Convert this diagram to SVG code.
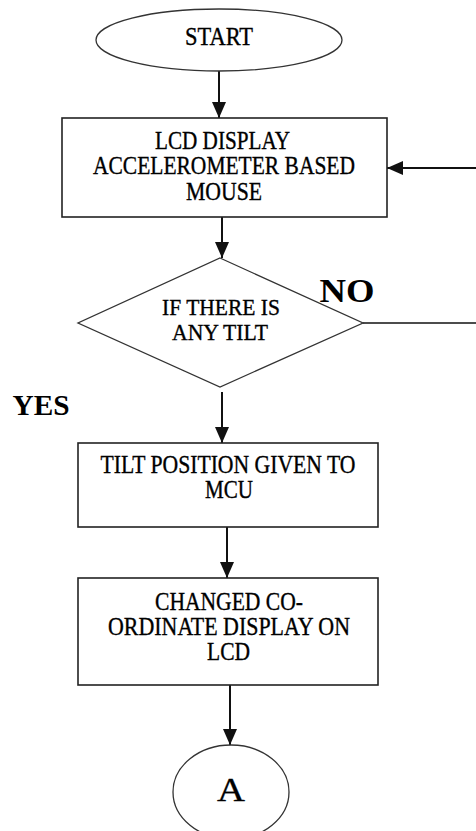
<svg xmlns="http://www.w3.org/2000/svg" width="476" height="831" viewBox="0 0 476 831">
<style>
.shape{fill:#fff;stroke:#222;stroke-width:1.6}
.soft{fill:#fff;stroke:#333;stroke-width:1.3}
.t{font-family:"Liberation Serif","Times New Roman","DejaVu Serif",serif;font-weight:normal;font-size:25px;fill:#000;stroke:#000;stroke-width:0.35;text-anchor:middle}
.b{font-family:"Liberation Serif","Times New Roman","DejaVu Serif",serif;font-weight:bold;fill:#000;text-anchor:middle}
.c{fill:none;stroke:#111;stroke-width:2}
</style>
<defs>
<marker id="arr" markerUnits="userSpaceOnUse" markerWidth="16" markerHeight="14" refX="16" refY="7" orient="auto">
<path d="M0,0 L16,7 L0,14 z" fill="#111"/>
</marker>
</defs>
<g id="connectors">
<line class="c" x1="219" y1="71" x2="219" y2="118" marker-end="url(#arr)"/>
<line class="c" x1="222" y1="217" x2="222" y2="258" marker-end="url(#arr)"/>
<line class="c" x1="222" y1="392" x2="222" y2="443" marker-end="url(#arr)"/>
<line class="c" x1="227" y1="527" x2="227" y2="578" marker-end="url(#arr)"/>
<line class="c" x1="230" y1="685" x2="230" y2="745" marker-end="url(#arr)"/>
<line class="c" style="stroke-width:1.5" x1="363" y1="323" x2="476" y2="323"/>
<line class="c" x1="476" y1="168" x2="387" y2="168" marker-end="url(#arr)"/>
<text class="b" x="347" y="302" font-size="34" textLength="55" lengthAdjust="spacingAndGlyphs">NO</text>
<text class="b" x="41" y="415" font-size="30" textLength="57" lengthAdjust="spacingAndGlyphs">YES</text>
</g>
<g id="start">
<ellipse class="soft" cx="219" cy="40" rx="123" ry="31"/>
<text class="t" x="219" y="45" textLength="68" lengthAdjust="spacingAndGlyphs">START</text>
</g>
<g id="lcd">
<rect class="shape" x="62" y="118" width="325" height="99"/>
<text class="t" x="222.5" y="149" textLength="135" lengthAdjust="spacingAndGlyphs">LCD DISPLAY</text>
<text class="t" x="224" y="174" textLength="262" lengthAdjust="spacingAndGlyphs">ACCELEROMETER BASED</text>
<text class="t" x="224" y="200" textLength="76" lengthAdjust="spacingAndGlyphs">MOUSE</text>
</g>
<g id="decision">
<polygon class="soft" points="220,258 363,323 220,387 78,323"/>
<text class="t" style="font-size:23px" x="221" y="315" textLength="118" lengthAdjust="spacingAndGlyphs">IF THERE IS</text>
<text class="t" style="font-size:23px" x="220" y="340" textLength="96" lengthAdjust="spacingAndGlyphs">ANY TILT</text>
</g>
<g id="tilt">
<rect class="shape" x="78" y="443" width="300" height="84"/>
<text class="t" x="228" y="473" textLength="255" lengthAdjust="spacingAndGlyphs">TILT POSITION GIVEN TO</text>
<text class="t" x="229" y="498" textLength="48" lengthAdjust="spacingAndGlyphs">MCU</text>
</g>
<g id="changed">
<rect class="shape" x="78" y="578" width="300" height="107"/>
<text class="t" x="229" y="610" textLength="148" lengthAdjust="spacingAndGlyphs">CHANGED CO-</text>
<text class="t" x="229" y="635" textLength="242" lengthAdjust="spacingAndGlyphs">ORDINATE DISPLAY ON</text>
<text class="t" x="228.5" y="660" textLength="43" lengthAdjust="spacingAndGlyphs">LCD</text>
</g>
<g id="connectorA">
<ellipse class="soft" cx="231" cy="792" rx="58" ry="47"/>
<text class="t" style="font-size:33px" x="231" y="801" textLength="28" lengthAdjust="spacingAndGlyphs">A</text>
</g>
</svg>
